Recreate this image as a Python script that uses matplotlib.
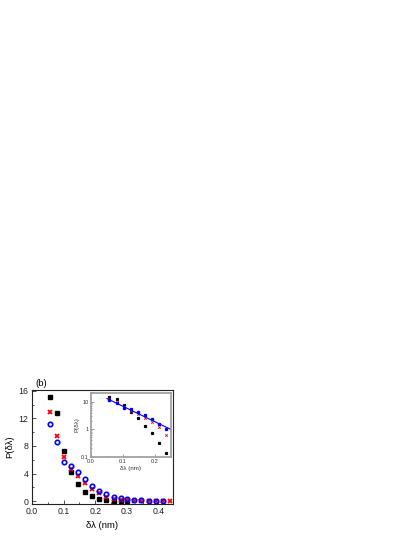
import numpy as np
import matplotlib
matplotlib.use("Agg")
import matplotlib.pyplot as plt
from matplotlib.ticker import MultipleLocator, LogLocator, NullFormatter, FixedLocator

plt.rcParams['font.family'] = ['Liberation Sans', 'DejaVu Sans']

# Data
dl = [0.058, 0.080, 0.102, 0.124, 0.147, 0.169, 0.191, 0.213, 0.235,
      0.258, 0.280, 0.302, 0.324, 0.346, 0.369, 0.391, 0.413, 0.435]
p_black = [15.1, 12.7, 7.3, 4.3, 2.5, 1.33, 0.74, 0.32, 0.135,
           0.06, 0.03, 0.015]
p_red = [12.9, 9.4, 6.45, 4.65, 3.65, 2.6, 1.8, 1.15, 0.6,
         0.3, 0.2, 0.12, 0.08, 0.05, 0.04, 0.03, 0.02, 0.02]
p_blue = [11.2, 8.55, 5.7, 5.17, 4.2, 3.25, 2.27, 1.55, 1.0,
          0.65, 0.43, 0.29, 0.19, 0.12, 0.08, 0.05, 0.03]
n_inset = 9
fit_range = [0.05, 0.26]

fig = plt.figure(figsize=(4.15, 5.37), dpi=100)

# Main axes
ax = fig.add_axes([32/415, 1 - 504/537, 141/415, 114/537])
ax.plot(dl[:len(p_black)], p_black, ls='none', marker='s', ms=3.0,
        color='black', mec='black')
ax.plot(dl[:len(p_red)], p_red, ls='none', marker='x', ms=3.4,
        mew=1.3, color='red')
ax.plot(dl[:len(p_blue)], p_blue, ls='none', marker='o', ms=3.2,
        mfc='none', mec='blue', mew=1.2)
ax.set_xlim(0, 0.446)
ax.set_ylim(-0.4, 16.1)
ax.xaxis.set_major_locator(MultipleLocator(0.1))
ax.xaxis.set_minor_locator(MultipleLocator(0.05))
ax.yaxis.set_major_locator(MultipleLocator(4))
ax.yaxis.set_minor_locator(MultipleLocator(2))
ax.xaxis.set_major_formatter(matplotlib.ticker.FormatStrFormatter('%.1f'))
ax.tick_params(which='both', direction='in', labelsize=6.3, colors='#333333',
               labelcolor='#222222', width=0.6)
ax.tick_params(which='major', length=3, pad=2.5)
ax.tick_params(which='minor', length=1.6)
for s in ax.spines.values():
    s.set_linewidth(0.8)
    s.set_color('#222222')
ax.set_xlabel('δλ (nm)', fontsize=6.8, labelpad=3)
ax.set_ylabel('P(δλ)', fontsize=6.8, labelpad=3)
fig.text(35/415, 1 - 384/537, '(b)', fontsize=6.8, ha='left', va='center')

# Inset
axi = fig.add_axes([91/415, 1 - 456.7/537, 79.7/415, 63.4/537])
axi.set_yscale('log')
axi.plot(dl[:n_inset], p_black[:n_inset], ls='none', marker='s', ms=1.3,
         color='black')
axi.plot(dl[:n_inset], p_red[:n_inset], ls='none', marker='x', ms=1.8,
         mew=0.6, color='red')
axi.plot(dl[:n_inset], p_blue[:n_inset], ls='none', marker='s', ms=1.4,
         color='blue')
coef = np.polyfit(dl[:n_inset], np.log10(p_blue[:n_inset]), 1)
xf = np.array(fit_range)
axi.plot(xf, 10 ** np.polyval(coef, xf), color='blue', lw=0.8)
axi.set_xlim(0, 0.25)
axi.set_ylim(0.1, 20)
axi.xaxis.set_major_locator(MultipleLocator(0.1))
axi.xaxis.set_minor_locator(MultipleLocator(0.05))
axi.xaxis.set_major_formatter(matplotlib.ticker.FormatStrFormatter('%.1f'))
axi.yaxis.set_major_locator(FixedLocator([0.1, 1, 10]))
axi.yaxis.set_major_formatter(matplotlib.ticker.FuncFormatter(
    lambda v, p: {0.1: '0.1', 1: '1', 10: '10'}.get(round(v, 3), '')))
axi.yaxis.set_minor_locator(LogLocator(base=10, subs=np.arange(2, 10)))
axi.yaxis.set_minor_formatter(NullFormatter())
axi.tick_params(which='both', direction='in', labelsize=4, colors='#555555',
                labelcolor='#333333', width=0.4)
axi.tick_params(which='major', length=2, pad=1.5)
axi.tick_params(which='minor', length=1)
for s in axi.spines.values():
    s.set_linewidth(1.2)
    s.set_color('#999999')
axi.set_xlabel('δλ (nm)', fontsize=4.5, labelpad=1.5, color='#333333')
axi.set_ylabel('P(δλ)', fontsize=4.5, labelpad=1.5, color='#333333')

fig.savefig('out.png', dpi=100)
